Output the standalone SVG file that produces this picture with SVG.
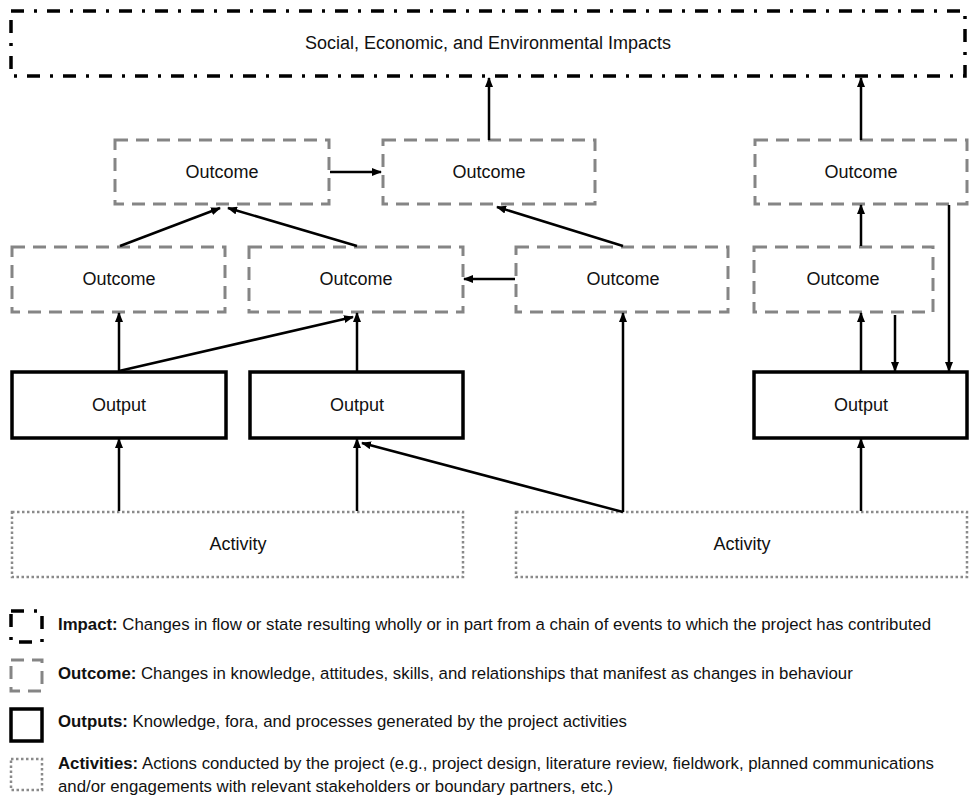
<svg xmlns="http://www.w3.org/2000/svg" width="969" height="797" viewBox="0 0 969 797">
  <style>
    text { font-family: "Liberation Sans", Arial, sans-serif; fill: #111; }
    .lbl { font-size: 18px; text-anchor: middle; dominant-baseline: central; }
    .leg { font-size: 16.8px; }
    .leg tspan.b { font-weight: bold; }
    .impact { fill: #fff; stroke: #000; stroke-width: 3.5; stroke-dasharray: 13 10 3 10; }
    .outcome { fill: #fff; stroke: #858585; stroke-width: 3; stroke-dasharray: 13 8; }
    .output { fill: #fff; stroke: #000; stroke-width: 3.5; }
    .activity { fill: #fff; stroke: #8a8a8a; stroke-width: 2.5; stroke-dasharray: 2.5 2.5; }
    .conn line { stroke: #000; stroke-width: 2.5; marker-end: url(#arrow); }
  </style>
  <defs>
    <marker id="arrow" markerUnits="userSpaceOnUse" markerWidth="10" markerHeight="8" refX="9" refY="4" orient="auto">
      <path d="M0,0 L10,4 L0,8 z" fill="#000"/>
    </marker>
  </defs>
  <rect width="969" height="797" fill="#fff"/>

  <!-- impact -->
  <g id="impact">
    <rect class="impact" x="11" y="11" width="954" height="65"/>
    <text class="lbl" x="488" y="43">Social, Economic, and Environmental Impacts</text>
  </g>

  <!-- outcomes, upper row -->
  <g id="outcome-a">
    <rect class="outcome" x="115" y="140" width="214" height="64"/>
    <text class="lbl" x="222" y="172">Outcome</text>
  </g>
  <g id="outcome-b">
    <rect class="outcome" x="383" y="140" width="212" height="64"/>
    <text class="lbl" x="489" y="172">Outcome</text>
  </g>
  <g id="outcome-c">
    <rect class="outcome" x="755" y="140" width="212" height="64"/>
    <text class="lbl" x="861" y="172">Outcome</text>
  </g>

  <!-- outcomes, lower row -->
  <g id="outcome-d">
    <rect class="outcome" x="12" y="247" width="213" height="65"/>
    <text class="lbl" x="119" y="279">Outcome</text>
  </g>
  <g id="outcome-e">
    <rect class="outcome" x="249" y="247" width="214" height="65"/>
    <text class="lbl" x="356" y="279">Outcome</text>
  </g>
  <g id="outcome-f">
    <rect class="outcome" x="516" y="247" width="212" height="65"/>
    <text class="lbl" x="623" y="279">Outcome</text>
  </g>
  <g id="outcome-g">
    <rect class="outcome" x="754" y="247" width="179" height="65"/>
    <text class="lbl" x="843" y="279">Outcome</text>
  </g>

  <!-- outputs -->
  <g id="output-a">
    <rect class="output" x="12" y="372" width="214" height="66"/>
    <text class="lbl" x="119" y="405">Output</text>
  </g>
  <g id="output-b">
    <rect class="output" x="250" y="372" width="213" height="66"/>
    <text class="lbl" x="357" y="405">Output</text>
  </g>
  <g id="output-c">
    <rect class="output" x="754" y="372" width="213" height="66"/>
    <text class="lbl" x="861" y="405">Output</text>
  </g>

  <!-- activities -->
  <g id="activity-a">
    <rect class="activity" x="12" y="512" width="451" height="65"/>
    <text class="lbl" x="238" y="544">Activity</text>
  </g>
  <g id="activity-b">
    <rect class="activity" x="516" y="512" width="451" height="65"/>
    <text class="lbl" x="742" y="544">Activity</text>
  </g>

  <!-- connectors -->
  <g id="connectors" class="conn">
    <line x1="489" y1="140" x2="489" y2="78"/>
    <line x1="861" y1="140" x2="861" y2="78"/>
    <line x1="330" y1="172" x2="381" y2="172"/>
    <line x1="120" y1="246" x2="220" y2="208"/>
    <line x1="357" y1="246" x2="228" y2="208"/>
    <line x1="623" y1="246" x2="497" y2="207"/>
    <line x1="515" y1="279" x2="464" y2="279"/>
    <line x1="861" y1="246" x2="861" y2="205"/>
    <line x1="949" y1="205" x2="949" y2="371"/>
    <line x1="119" y1="371" x2="119" y2="313"/>
    <line x1="119" y1="371" x2="353" y2="317"/>
    <line x1="357" y1="371" x2="357" y2="313"/>
    <line x1="623" y1="512" x2="623" y2="313"/>
    <line x1="861" y1="371" x2="861" y2="313"/>
    <line x1="895" y1="315" x2="895" y2="371"/>
    <line x1="119" y1="511" x2="119" y2="439"/>
    <line x1="357" y1="511" x2="357" y2="439"/>
    <line x1="623" y1="512" x2="362" y2="443"/>
    <line x1="861" y1="511" x2="861" y2="439"/>
  </g>

  <!-- key -->
  <g id="legend">
    <rect class="impact" x="11" y="611" width="31" height="31"/>
    <rect class="outcome" x="11" y="660" width="31" height="31"/>
    <rect class="output" x="11" y="709" width="31" height="32"/>
    <rect class="activity" x="11" y="759" width="31" height="31"/>
    <text class="leg" x="58" y="630"><tspan class="b">Impact:</tspan> Changes in flow or state resulting wholly or in part from a chain of events to which the project has contributed</text>
    <text class="leg" x="58" y="679"><tspan class="b">Outcome:</tspan> Changes in knowledge, attitudes, skills, and relationships that manifest as changes in behaviour</text>
    <text class="leg" x="58" y="727"><tspan class="b">Outputs:</tspan> Knowledge, fora, and processes generated by the project activities</text>
    <text class="leg" x="58" y="769"><tspan class="b">Activities:</tspan> Actions conducted by the project (e.g., project design, literature review, fieldwork, planned communications</text>
    <text class="leg" x="58" y="792">and/or engagements with relevant stakeholders or boundary partners, etc.)</text>
  </g>
</svg>
